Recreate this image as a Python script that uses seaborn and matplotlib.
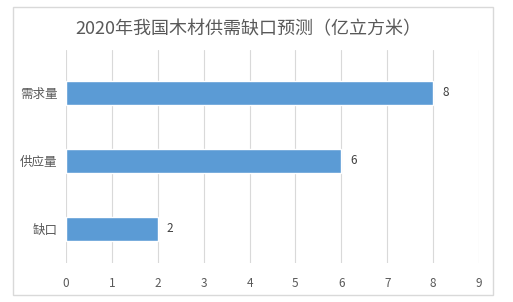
import matplotlib
matplotlib.use("Agg")
import matplotlib.pyplot as plt
import seaborn as sns
import pandas as pd
from matplotlib.patches import Rectangle

categories = ["需求量", "供应量", "缺口"]
values = [8, 6, 2]
xticks = list(range(0, 10))

sns.set_style("white")
plt.rcParams['font.family'] = ['Noto Sans CJK SC', 'DejaVu Sans']

df = pd.DataFrame({"类别": categories, "数量": values})

fig = plt.figure(figsize=(5.13, 3.02), dpi=100)
fig.patch.set_facecolor("white")
fig.patches.append(Rectangle((13 / 513, 1 - 295 / 302), 480 / 513, 288 / 302,
                             transform=fig.transFigure, fill=False,
                             edgecolor="#d9d9d9", linewidth=1))

ax = fig.add_axes([66 / 513, 1 - 263 / 302, (479 - 66) / 513, (263 - 50) / 302])
sns.barplot(data=df, y="类别", x="数量", orient="h", color="#5b9bd5",
            width=0.36, saturation=1, ax=ax)

ax.set_xlim(0, 9)
ax.set_ylim(2.5, -0.63)
ax.set_xticks(xticks)
ax.xaxis.grid(True, color="#d9d9d9", linewidth=0.8)
ax.set_axisbelow(True)
for s in ax.spines.values():
    s.set_visible(False)
ax.set_xlabel("")
ax.set_ylabel("")
ax.tick_params(axis="y", length=0, labelsize=9, colors="#595959", pad=6)
ax.tick_params(axis="x", length=0, labelsize=8.5, colors="#595959", pad=10)

for i, v in enumerate(values):
    ax.text(v + 0.2, i, str(v), va="center", ha="left", fontsize=8.5, color="#404040")

fig.text(248 / 513, 1 - 29 / 302, "2020年我国木材供需缺口预测（亿立方米）",
         ha="center", va="center", fontsize=13, color="#595959")

fig.savefig("out.png", dpi=100)
